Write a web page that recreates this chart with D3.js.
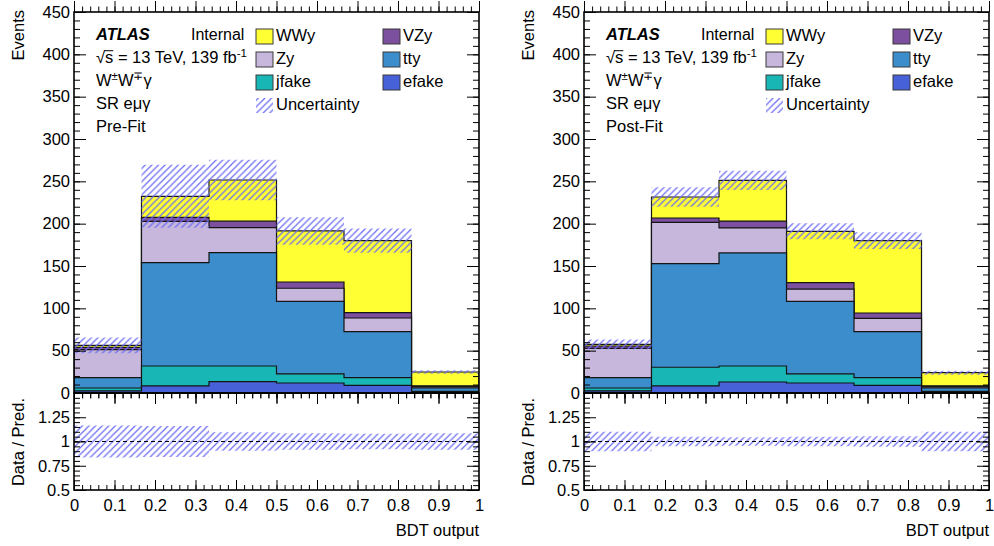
<!DOCTYPE html>
<html>
<head>
<meta charset="utf-8">
<script src="https://cdn.jsdelivr.net/npm/d3@7"></script>
<style>
  body { margin: 0; background: #fff; }
  svg { display: block; }
  text { font-family: "Liberation Sans", Arial, Helvetica, sans-serif; fill: #000; }
</style>
</head>
<body>
<svg id="chart" width="994" height="546"></svg>
<script>
// ---- binning and tick labels ----
const binEdges = [0, 1/6, 2/6, 3/6, 4/6, 5/6, 1];
const yTicksMain = [0, 50, 100, 150, 200, 250, 300, 350, 400, 450];
const yTicksRatio = [0.5, 0.75, 1, 1.25];
const xTicks = [0, 0.1, 0.2, 0.3, 0.4, 0.5, 0.6, 0.7, 0.8, 0.9, 1];

// stacking order, bottom to top
const processes = ["efake", "jfake", "tty", "Zy", "VZy", "WWy"];
const processColors = ["#4761d9", "#19b6b6", "#3c8dcb", "#c7b7dc", "#7d4f9f", "#ffff33"];
const legendRows = [["WWy", "VZy"], ["Zy", "tty"], ["jfake", "efake"]];

// ---- pre-fit yields per BDT bin ----
const preEfake = [2.4, 8.3, 13.4, 11.8, 9.1, 1.2];
const preJfake = [3.5, 23.6, 18.5, 10.7, 9.1, 0.8];
const preTty   = [12.3, 122.1, 133.9, 85.8, 54.3, 4.0];
const preZy    = [33.1, 48.8, 29.5, 15.4, 16.1, 1.5];
const preVZy   = [2.7, 4.7, 7.7, 7.4, 6.4, 1.0];
const preWWy   = [2.2, 24.8, 48.6, 60.3, 85.0, 16.3];
const preRelUnc = [0.165, 0.16, 0.095, 0.085, 0.08, 0.085];

// ---- post-fit yields per BDT bin ----
const postEfake = [2.4, 8.3, 13.0, 11.8, 9.1, 1.2];
const postJfake = [3.5, 22.1, 18.9, 10.7, 9.1, 0.8];
const postTty   = [12.3, 122.4, 133.5, 85.8, 54.3, 4.0];
const postZy    = [34.6, 48.8, 29.6, 14.5, 15.7, 1.5];
const postVZy   = [2.7, 5.1, 8.1, 7.6, 6.3, 1.0];
const postWWy   = [2.0, 24.8, 48.1, 60.6, 85.5, 15.5];
const postRelUnc = [0.10, 0.05, 0.045, 0.05, 0.055, 0.10];

const svg = d3.select("#chart");
const defs = svg.append("defs");
const hatch = defs.append("pattern")
  .attr("id", "hatch")
  .attr("patternUnits", "userSpaceOnUse")
  .attr("width", 6.6).attr("height", 6.6);
hatch.append("path")
  .attr("d", "M-1,1 L1,-1 M0,6.6 L6.6,0 M5.6,7.6 L7.6,5.6")
  .attr("stroke", "#6a6af3").attr("stroke-width", 1.2).attr("fill", "none");

const colorOf = d3.scaleOrdinal().domain(processes).range(processColors);

function drawPanel(p) {
  const W = 405;
  const x0 = p.left, x1 = p.left + W;
  const x = d3.scaleLinear().domain([0, 1]).range([x0, x1]);
  const y = d3.scaleLinear().domain([0, 450]).range([393, 12]);
  const yr = d3.scaleLinear().domain([0.5, 1.5]).range([490, 393]);
  const g = svg.append("g");

  const clipId = "clip" + p.left;
  defs.append("clipPath").attr("id", clipId)
    .append("rect").attr("x", x0).attr("y", 12).attr("width", W).attr("height", 478);

  // one row per bin, one column per process
  const rows = binEdges.slice(0, -1).map((lo, i) => {
    const r = { lo };
    processes.forEach(k => { r[k] = p.yields[k][i]; });
    return r;
  });
  const stacked = d3.stack().keys(processes)(rows);

  // histogram-style step points (the last bin edge repeats the last value)
  const steps = (lowFn, highFn) => binEdges.map((e, i) => {
    const j = Math.min(i, rows.length - 1);
    return { e, lo: lowFn(j), hi: highFn(j) };
  });
  const stepArea = ys => d3.area()
    .x(d => x(d.e)).y0(d => ys(d.lo)).y1(d => ys(d.hi))
    .curve(d3.curveStepAfter);

  const body = g.append("g").attr("clip-path", `url(#${clipId})`);

  // cumulative histograms, largest first so each smaller one sits on top
  for (let k = stacked.length - 1; k >= 0; k--) {
    const layer = stacked[k];
    body.append("path")
      .attr("d", stepArea(y)(steps(() => 0, j => layer[j][1])))
      .attr("fill", colorOf(processes[k]))
      .attr("stroke", "#151515").attr("stroke-width", 1.2);
  }

  const total = stacked[stacked.length - 1].map(d => d[1]);

  // uncertainty band on the total prediction
  body.append("path")
    .attr("d", stepArea(y)(steps(j => total[j] * (1 - p.rel[j]), j => total[j] * (1 + p.rel[j]))))
    .attr("fill", "url(#hatch)");

  // ratio panel band
  body.append("path")
    .attr("d", stepArea(yr)(steps(j => 1 - p.rel[j], j => 1 + p.rel[j])))
    .attr("fill", "url(#hatch)");

  g.append("line")
    .attr("x1", x0).attr("x2", x1).attr("y1", yr(1)).attr("y2", yr(1))
    .attr("stroke", "#000").attr("stroke-width", 1).attr("stroke-dasharray", "4,3");

  // ---- axes ----
  const minorX = d3.range(0, 51).map(i => i / 50);
  const minorY = d3.range(0, 46).map(i => i * 10);
  const minorR = d3.range(0, 21).map(i => 0.5 + i * 0.05);

  const axisStyle = sel => {
    sel.select(".domain").remove();
    sel.selectAll(".tick line").attr("stroke", "#000").attr("stroke-width", 1);
    sel.selectAll(".tick text").style("font-size", "16.5px").attr("fill", "#000");
  };

  // upper panel, y
  g.append("g").attr("transform", `translate(${x0},0)`)
    .call(d3.axisLeft(y).tickValues(yTicksMain).tickSize(-12).tickPadding(4).tickFormat(d3.format("d")))
    .call(axisStyle);
  g.append("g").attr("transform", `translate(${x0},0)`)
    .call(d3.axisLeft(y).tickValues(minorY).tickSize(-6).tickFormat(""))
    .call(axisStyle);
  g.append("g").attr("transform", `translate(${x1},0)`)
    .call(d3.axisRight(y).tickValues(yTicksMain).tickSize(-12).tickFormat(""))
    .call(axisStyle);
  g.append("g").attr("transform", `translate(${x1},0)`)
    .call(d3.axisRight(y).tickValues(minorY).tickSize(-6).tickFormat(""))
    .call(axisStyle);

  // upper panel, x (ticks only)
  [[d3.axisBottom, 12], [d3.axisTop, 393]].forEach(([ax, yy]) => {
    g.append("g").attr("transform", `translate(0,${yy})`)
      .call(ax(x).tickValues(xTicks).tickSize(-11).tickFormat(""))
      .call(axisStyle);
    g.append("g").attr("transform", `translate(0,${yy})`)
      .call(ax(x).tickValues(minorX).tickSize(-5.5).tickFormat(""))
      .call(axisStyle);
  });

  // ratio panel, y
  g.append("g").attr("transform", `translate(${x0},0)`)
    .call(d3.axisLeft(yr).tickValues(yTicksRatio).tickSize(-12).tickPadding(4).tickFormat(d3.format("~g")))
    .call(axisStyle);
  g.append("g").attr("transform", `translate(${x0},0)`)
    .call(d3.axisLeft(yr).tickValues(minorR).tickSize(-6).tickFormat(""))
    .call(axisStyle);
  g.append("g").attr("transform", `translate(${x1},0)`)
    .call(d3.axisRight(yr).tickValues(yTicksRatio.concat([1.5])).tickSize(-12).tickFormat(""))
    .call(axisStyle);
  g.append("g").attr("transform", `translate(${x1},0)`)
    .call(d3.axisRight(yr).tickValues(minorR).tickSize(-6).tickFormat(""))
    .call(axisStyle);

  // ratio panel, x
  g.append("g").attr("transform", `translate(0,490)`)
    .call(d3.axisBottom(x).tickValues(xTicks).tickSize(-10).tickPadding(9).tickFormat(d3.format("~g")))
    .call(axisStyle);
  g.append("g").attr("transform", `translate(0,490)`)
    .call(d3.axisBottom(x).tickValues(minorX).tickSize(-5).tickFormat(""))
    .call(axisStyle);
  g.append("g").attr("transform", `translate(0,393)`)
    .call(d3.axisTop(x).tickValues(xTicks).tickSize(-10).tickFormat(""))
    .call(axisStyle);
  g.append("g").attr("transform", `translate(0,393)`)
    .call(d3.axisTop(x).tickValues(minorX).tickSize(-5).tickFormat(""))
    .call(axisStyle);

  // frames
  g.append("rect").attr("x", x0).attr("y", 12).attr("width", W).attr("height", 381)
    .attr("fill", "none").attr("stroke", "#000").attr("stroke-width", 1.6);
  g.append("rect").attr("x", x0).attr("y", 393).attr("width", W).attr("height", 97)
    .attr("fill", "none").attr("stroke", "#000").attr("stroke-width", 1.6);

  // axis titles
  g.append("text").attr("transform", `translate(${x0 - 50},10) rotate(-90)`)
    .attr("text-anchor", "end").style("font-size", "16.5px").text("Events");
  g.append("text").attr("transform", `translate(${x0 - 50},398) rotate(-90)`)
    .attr("text-anchor", "end").style("font-size", "16.5px").text("Data / Pred.");
  g.append("text").attr("x", x1).attr("y", 536)
    .attr("text-anchor", "end").style("font-size", "16.5px").text("BDT output");

  // ---- labels ----
  const tx = x0 + 22;
  const atlas = g.append("text").attr("x", tx).attr("y", 40).style("font-size", "16.5px");
  atlas.append("tspan").attr("font-weight", "bold").attr("font-style", "italic").text("ATLAS");
  g.append("text").attr("x", x0 + 117).attr("y", 40).style("font-size", "16px").text("Internal");

  const l2 = g.append("text").attr("x", tx).attr("y", 63).style("font-size", "16.5px");
  l2.append("tspan").text("√s = 13 TeV, 139 fb");
  l2.append("tspan").attr("dy", -6).style("font-size", "11.5px").text("-1");
  // bar over the "s" of the square root
  const sBox = l2.node().getExtentOfChar(1);
  g.append("line")
    .attr("x1", sBox.x - 1).attr("x2", sBox.x + sBox.width)
    .attr("y1", 63 - 12.3).attr("y2", 63 - 12.3)
    .attr("stroke", "#000").attr("stroke-width", 1);

  const l3 = g.append("text").attr("x", tx).attr("y", 86).style("font-size", "16.5px");
  l3.append("tspan").text("W");
  l3.append("tspan").attr("dy", -6).style("font-size", "11.5px").text("±");
  l3.append("tspan").attr("dy", 6).text("W");
  l3.append("tspan").attr("dy", -6).style("font-size", "11.5px").text("∓");
  l3.append("tspan").attr("dy", 6).text("γ");

  g.append("text").attr("x", tx).attr("y", 109).style("font-size", "16.5px").text("SR eμγ");
  g.append("text").attr("x", tx).attr("y", 131.5).style("font-size", "16.5px").text(p.fitLabel);

  // legend
  const colX = [x0 + 182, x0 + 309];
  legendRows.forEach((row, r) => {
    row.forEach((name, c) => {
      g.append("rect")
        .attr("x", colX[c]).attr("y", 29 + r * 23).attr("width", 17).attr("height", 15)
        .attr("fill", colorOf(name)).attr("stroke", "#3a3a3a").attr("stroke-width", 1);
      g.append("text").attr("x", colX[c] + 20).attr("y", 41 + r * 23)
        .style("font-size", "16.5px").text(name);
    });
  });
  g.append("rect")
    .attr("x", colX[0]).attr("y", 29 + 3 * 23).attr("width", 17).attr("height", 15)
    .attr("fill", "url(#hatch)");
  g.append("text").attr("x", colX[0] + 20).attr("y", 41 + 3 * 23)
    .style("font-size", "16.5px").text("Uncertainty");
}

drawPanel({
  left: 74,
  fitLabel: "Pre-Fit",
  yields: { efake: preEfake, jfake: preJfake, tty: preTty, Zy: preZy, VZy: preVZy, WWy: preWWy },
  rel: preRelUnc
});
drawPanel({
  left: 584,
  fitLabel: "Post-Fit",
  yields: { efake: postEfake, jfake: postJfake, tty: postTty, Zy: postZy, VZy: postVZy, WWy: postWWy },
  rel: postRelUnc
});
</script>
</body>
</html>
